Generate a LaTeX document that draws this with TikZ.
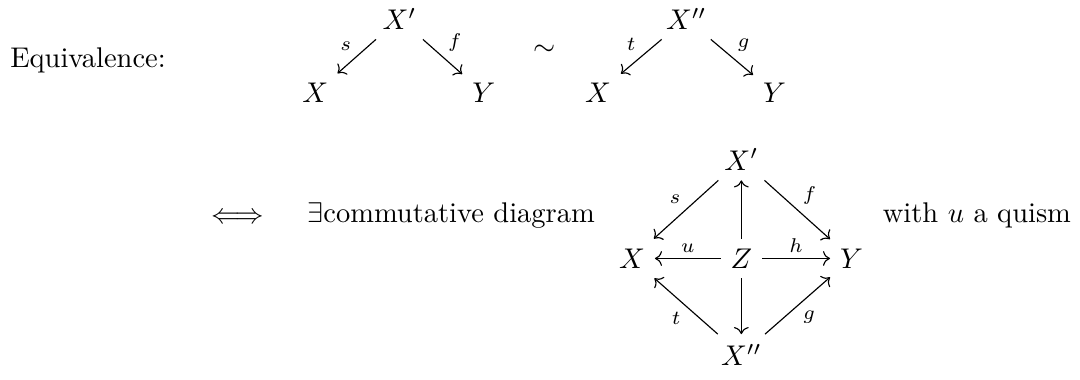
\documentclass[tikz,border=0pt]{standalone}
\usepackage{amsmath,amssymb}
\usetikzlibrary{arrows.meta,positioning}
\tikzset{
  arr/.style={-{Computer Modern Rightarrow}},
  lbl/.style={font=\scriptsize,inner sep=1.8pt},
  txt/.style={anchor=base west,inner sep=0pt}
}
\begin{document}
\begin{tikzpicture}[node distance=0.92cm and 1.04cm, on grid]
  \useasboundingbox (0,0) rectangle (13.33,-4.68);
  \node[txt] (eqv) at (0.12,-0.83) {Equivalence:};

  % first roof
  \node (ap) at (4.93,-0.23) {$X'$};
  \node[below left=of ap] (ax) {$X$};
  \node[below right=of ap] (ay) {$Y$};
  \draw[arr] (ap) -- node[lbl,above left] {$s$} (ax);
  \draw[arr] (ap) -- node[lbl,above right] {$f$} (ay);

  \node (sim) at (6.72,-0.62) {$\sim$};

  % second roof
  \node (bp) at (8.47,-0.23) {$X''$};
  \node[below left=0.92cm and 1.09cm of bp] (bx) {$X$};
  \node[below right=0.92cm and 1.09cm of bp] (by) {$Y$};
  \draw[arr] (bp) -- node[lbl,above left] {$t$} (bx);
  \draw[arr] (bp) -- node[lbl,above right] {$g$} (by);

  \node (iff) at (2.93,-2.70) {$\Longleftrightarrow$};
  \node[txt] (ex) at (3.79,-2.75) {$\exists$commutative diagram};
  \node[txt] (with) at (10.89,-2.75) {with $u$ a quism};

  % diamond
  \node (z) at (9.15,-3.19) {$Z$};
  \node[left=1.35cm of z] (x) {$X$};
  \node[right=1.36cm of z] (y) {$Y$};
  \node[above=1.22cm of z] (xp) {$X'$};
  \node[below=1.19cm of z] (xpp) {$X''$};
  \draw[arr] (xp) -- node[lbl,above left] {$s$} (x);
  \draw[arr] (xp) -- node[lbl,above right] {$f$} (y);
  \draw[arr] (z) -- node[lbl,above] {$u$} (x);
  \draw[arr] (z) -- node[lbl,above] {$h$} (y);
  \draw[arr] (z) -- (xp);
  \draw[arr] (z) -- (xpp);
  \draw[arr] (xpp) -- node[lbl,below left] {$t$} (x);
  \draw[arr] (xpp) -- node[lbl,below right] {$g$} (y);
\end{tikzpicture}
\end{document}
